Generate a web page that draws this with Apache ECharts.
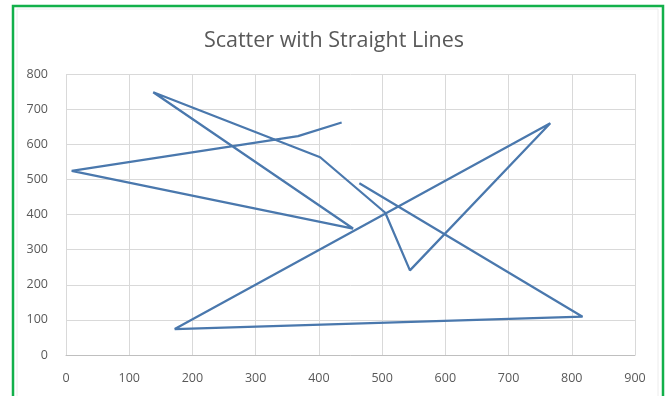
<!DOCTYPE html>
<html>
<head>
<meta charset="utf-8">
<script src="https://cdn.jsdelivr.net/npm/echarts@6/dist/echarts.min.js"></script>
<style>
html,body{margin:0;padding:0;background:#fff;}
#chart{width:668px;height:396px;}
</style>
</head>
<body>
<div id="chart"></div>
<script>
var titleText = 'Scatter with Straight Lines';
var xValues = [436, 367, 9, 454, 138, 402, 505, 544, 766, 172, 817, 464];
var yValues = [662, 623, 524, 360, 748, 563, 405, 241, 660, 74, 109, 489];
var xTicks = [0, 100, 200, 300, 400, 500, 600, 700, 800, 900];
var yTicks = [0, 100, 200, 300, 400, 500, 600, 700, 800];

var points = xValues.map(function (x, i) { return [x, yValues[i]]; });

var chart = echarts.init(document.getElementById('chart'), null, {renderer: 'canvas'});
var labelStyle = {color: '#595959', fontFamily: 'Open Sans', fontSize: 12.5};
chart.setOption({
  backgroundColor: '#ffffff',
  animation: false,
  title: {
    text: titleText,
    left: 'center',
    top: 25,
    textStyle: {color: '#595959', fontFamily: 'Open Sans', fontSize: 21.5, fontWeight: 'normal'}
  },
  graphic: [
    {type: 'rect', shape: {x: 17, y: 9, width: 641, height: 400}, style: {fill: 'none', stroke: '#ececec', lineWidth: 1}, silent: true},
    {type: 'rect', shape: {x: 13, y: 6, width: 650, height: 400}, style: {fill: 'none', stroke: '#12b04a', lineWidth: 2.5}, silent: true}
  ],
  grid: {left: 66, right: 33, top: 74, bottom: 41},
  xAxis: {
    type: 'value',
    min: xTicks[0],
    max: xTicks[xTicks.length - 1],
    interval: 100,
    axisLine: {show: true, lineStyle: {color: '#bfbfbf', width: 1}},
    axisTick: {show: false},
    axisLabel: Object.assign({margin: 17}, labelStyle),
    splitLine: {show: true, lineStyle: {color: '#d9d9d9', width: 1}}
  },
  yAxis: {
    type: 'value',
    min: yTicks[0],
    max: yTicks[yTicks.length - 1],
    interval: 100,
    axisLine: {show: false},
    axisTick: {show: false},
    axisLabel: Object.assign({margin: 18}, labelStyle),
    splitLine: {show: true, lineStyle: {color: '#d9d9d9', width: 1}}
  },
  series: [{
    type: 'line',
    data: points,
    showSymbol: false,
    symbol: 'none',
    lineStyle: {color: '#4a78ad', width: 2.25},
    z: 3
  }]
});
</script>
</body>
</html>
